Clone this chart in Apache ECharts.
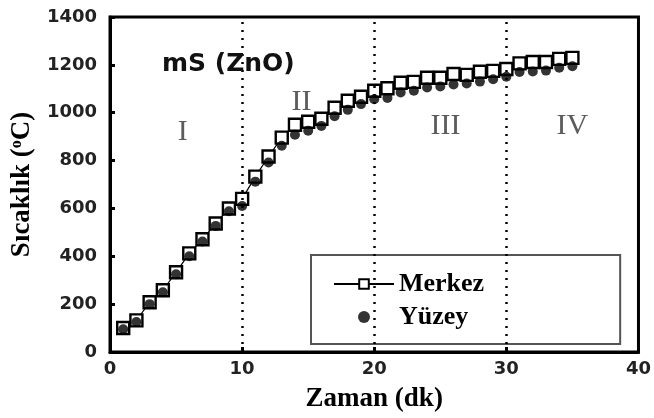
<!DOCTYPE html>
<html>
<head>
<meta charset="utf-8">
<script src="https://cdn.jsdelivr.net/npm/echarts@6/dist/echarts.min.js"></script>
<style>
  html, body { margin: 0; padding: 0; background: #fff; }
  #chart { width: 654px; height: 418px; }
</style>
</head>
<body>
<div id="chart"></div>
<script>
// Time in minutes
const minutes = [1,2,3,4,5,6,7,8,9,10,11,12,13,14,15,16,17,18,19,20,21,22,23,24,25,26,27,28,29,30,31,32,33,34,35];
// Core temperature (°C)
const merkez = [100,132,208,258,333,412,471,537,600,640,733,817,896,950,962,975,1021,1050,1067,1092,1102,1125,1129,1146,1146,1162,1158,1171,1175,1183,1206,1212,1212,1225,1229];
// Surface temperature (°C)
const yuzey = [95,125,200,250,325,400,462,527,588,610,712,792,862,908,925,945,985,1012,1036,1056,1062,1085,1092,1105,1110,1118,1122,1130,1140,1150,1170,1172,1176,1188,1194];
// Stage boundaries (minutes)
const stageBounds = [10,20,30];
// Stage labels and where they sit [minute, °C]
const stageNames = ['I','II','III','IV'];
const stageSpots = [[5.5,917],[14.5,1046],[25.4,942],[35,942]];
const xTicks = [0,10,20,30,40];
const yTicks = [0,200,400,600,800,1000,1200,1400];

const chart = echarts.init(document.getElementById('chart'), null, { renderer: 'canvas' });

const tickFont = { fontFamily: 'DejaVu Sans', fontWeight: 'bold', fontSize: 18, color: '#222' };
const nameFont = { fontFamily: 'Liberation Serif, Times New Roman', fontWeight: 'bold', fontSize: 27, color: '#000' };

chart.setOption({
  animation: false,
  backgroundColor: '#fff',
  grid: { left: 110, top: 17, width: 532, height: 336, show: true, borderColor: '#000', borderWidth: 3 },
  title: {
    text: 'mS (ZnO)', left: 157, top: 47,
    textStyle: { fontFamily: 'DejaVu Sans', fontWeight: 'bold', fontSize: 25, color: '#111' }
  },
  legend: {
    orient: 'vertical', left: 311, top: 255,
    padding: [16, 136, 14, 22],
    itemGap: 7, itemWidth: 60, itemHeight: 12,
    borderColor: '#555', borderWidth: 2,
    textStyle: Object.assign({}, nameFont, { fontSize: 26 }),
    data: ['Merkez', 'Yüzey']
  },
  xAxis: {
    type: 'value', min: 0, max: 40, interval: 10,
    name: 'Zaman (dk)', nameLocation: 'middle', nameGap: 34, nameTextStyle: nameFont,
    axisLine: { lineStyle: { color: '#000', width: 3 } },
    axisTick: { inside: true, length: 5, lineStyle: { color: '#000', width: 3 } },
    axisLabel: Object.assign({ margin: 8, formatter: v => xTicks.includes(v) ? String(v) : '' }, tickFont),
    splitLine: { show: false }
  },
  yAxis: {
    type: 'value', min: 0, max: 1400, interval: 200,
    name: '{n|Sıcaklık (}{s|o}{n|C)}', nameLocation: 'middle', nameGap: 72,
    nameTextStyle: {
      rich: {
        n: nameFont,
        s: { fontFamily: 'Liberation Serif', fontWeight: 'bold', fontSize: 16, color: '#000', verticalAlign: 'top', padding: [0, 0, 12, 0] }
      }
    },
    axisLine: { lineStyle: { color: '#000', width: 3 } },
    axisTick: { inside: true, length: 5, lineStyle: { color: '#000', width: 3 } },
    axisLabel: Object.assign({ margin: 13, formatter: v => yTicks.includes(v) ? String(v) : '' }, tickFont),
    splitLine: { show: false }
  },
  series: [
    {
      name: 'Merkez', type: 'line',
      data: minutes.map((m, i) => [m, merkez[i]]),
      symbol: 'rect', symbolSize: 12, showSymbol: true,
      lineStyle: { color: '#000', width: 1.2 },
      itemStyle: { color: '#fff', borderColor: '#000', borderWidth: 2.4 },
      z: 3,
      markLine: {
        silent: true, symbol: 'none', label: { show: false },
        lineStyle: { color: '#000', type: [2, 6], width: 2.5 },
        data: stageBounds.map(b => ({ xAxis: b }))
      }
    },
    {
      name: 'Yüzey', type: 'scatter',
      data: minutes.map((m, i) => [m, yuzey[i]]),
      symbol: 'circle', symbolSize: 10,
      itemStyle: { color: '#000' },
      z: 4
    },
    {
      name: 'stages', type: 'scatter',
      data: stageSpots.map((p, i) => ({ value: p, name: stageNames[i] })),
      symbolSize: 0, silent: true,
      label: {
        show: true, position: 'inside', formatter: p => p.name,
        fontFamily: 'Liberation Serif, Times New Roman', fontSize: 30, color: '#333'
      }
    }
  ]
});
</script>
</body>
</html>
